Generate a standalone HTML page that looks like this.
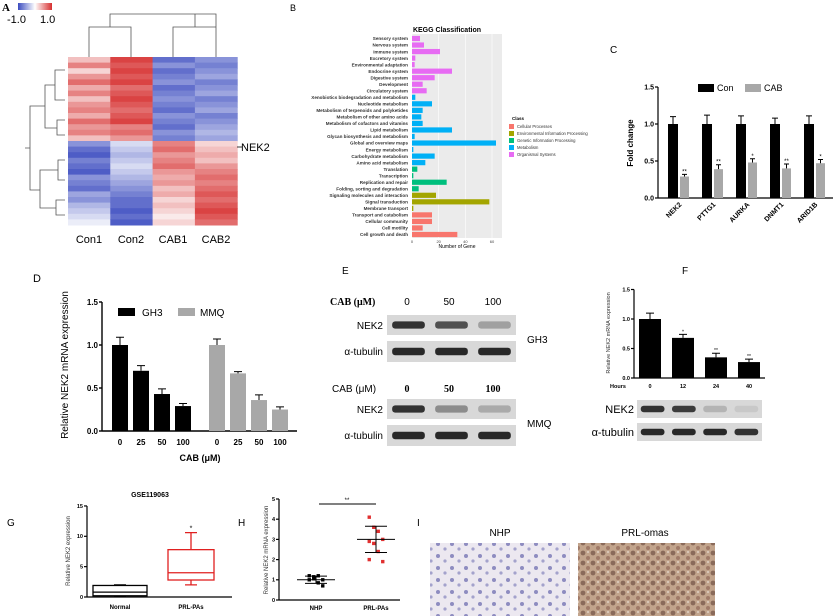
<!DOCTYPE html>
<html><head><meta charset="utf-8"><style>
body{margin:0;background:#fff;width:833px;height:616px;overflow:hidden}
svg{display:block;font-family:"Liberation Sans",sans-serif}
</style></head><body>
<svg id="fig" width="833" height="616" viewBox="0 0 833 616">
<defs>
<linearGradient id="cbar" x1="0" x2="1"><stop offset="0" stop-color="#3b4cc0"/><stop offset="0.5" stop-color="#fff"/><stop offset="1" stop-color="#d62f2f"/></linearGradient>
<pattern id="nhpTex" width="14" height="12" patternUnits="userSpaceOnUse"><rect width="14" height="12" fill="#ece8f0"/><circle cx="4" cy="4" r="2" fill="#8e8cc0"/><circle cx="11" cy="9" r="1.6" fill="#a4a2cc"/></pattern>
<pattern id="prlTex" width="10" height="10" patternUnits="userSpaceOnUse"><rect width="10" height="10" fill="#c2a48c"/><circle cx="3" cy="3" r="2.4" fill="#8a6a5a"/><circle cx="8" cy="8" r="2" fill="#a07a68"/><circle cx="8" cy="2" r="1" fill="#e0d0c4"/></pattern>
</defs>
<g id="pA">
<text x="2" y="11" font-size="11" font-family="Liberation Serif" font-weight="bold">A</text>
<rect x="18" y="3" width="34" height="7" fill="url(#cbar)"/>
<text x="7" y="23" font-size="11">-1.0</text>
<text x="40" y="23" font-size="11">1.0</text>
<g id="hm"></g>
<g stroke="#555" stroke-width="0.8" fill="none">
<path d="M89 57V27H131V57M110 27V14H216V27M173 57V27H216V57M195 27V14"/>
</g>
<g stroke="#555" stroke-width="0.8" fill="none">
<path d="M65 70H55V100H65M65 120H57V135H65M55 85H45V128H57M45 106H30V190H40M65 160H58V180H65M65 200H56V215H65M58 170H40V208H56M30 148H25"/>
</g>
<line x1="237" y1="147" x2="242" y2="147" stroke="#000" stroke-width="0.8"/>
<text x="241" y="151" font-size="11">NEK2</text>
<g font-size="11" text-anchor="middle">
<text x="89" y="243">Con1</text><text x="131" y="243">Con2</text><text x="173" y="243">CAB1</text><text x="216" y="243">CAB2</text>
</g>
</g>
<g id="pB">
<text x="290" y="11" font-size="9">B</text>
<text x="447" y="32" font-size="7" font-weight="bold" text-anchor="middle">KEGG Classification</text>
<rect x="412" y="34" width="90" height="204" fill="#ebebeb"/>
<g id="kegg"></g>
<text x="457" y="248" font-size="5" text-anchor="middle">Number of Gene</text>
<text x="512" y="120" font-size="4.5" font-weight="bold">Class</text>
<g id="keggLeg"></g>
</g>
<g id="pC">
<text x="610" y="53" font-size="10">C</text>
<g id="cChart"></g>
</g>
<g id="pD">
<text x="33" y="282" font-size="11">D</text>
<g id="dChart"></g>
</g>
<g id="pE">
<text x="342" y="274" font-size="10">E</text>
<text x="330" y="305" font-size="10" font-weight="bold" font-family="Liberation Serif">CAB (μM)</text>
<g font-size="10" text-anchor="middle"><text x="407" y="305">0</text><text x="449" y="305">50</text><text x="493" y="305">100</text></g>
<text x="383" y="329" font-size="10" text-anchor="end">NEK2</text>
<text x="383" y="355" font-size="10" text-anchor="end">α-tubulin</text>
<text x="527" y="343" font-size="10">GH3</text>
<text x="332" y="392" font-size="10">CAB (μM)</text>
<g font-size="10" font-weight="bold" font-family="Liberation Serif" text-anchor="middle"><text x="407" y="392">0</text><text x="449" y="392">50</text><text x="493" y="392">100</text></g>
<text x="383" y="413" font-size="10" text-anchor="end">NEK2</text>
<text x="383" y="439" font-size="10" text-anchor="end">α-tubulin</text>
<text x="527" y="427" font-size="10">MMQ</text>
<g id="eBlots"></g>
</g>
<g id="pF">
<text x="682" y="274" font-size="10">F</text>
<g id="fChart"></g>
<text x="634" y="413" font-size="11" text-anchor="end">NEK2</text>
<text x="634" y="436" font-size="11" text-anchor="end">α-tubulin</text>
<g id="fBlots"></g>
</g>
<g id="pG">
<text x="7" y="526" font-size="10">G</text>
<text x="150" y="497" font-size="7" font-weight="bold" text-anchor="middle">GSE119063</text>
<g id="gChart"></g>
</g>
<g id="pH">
<text x="238" y="526" font-size="10">H</text>
<g id="hChart"></g>
</g>
<g id="pI">
<text x="417" y="526" font-size="10">I</text>
<text x="500" y="536" font-size="10" text-anchor="middle">NHP</text>
<text x="645" y="536" font-size="10" text-anchor="middle">PRL-omas</text>
<rect x="430" y="543" width="140" height="73" fill="url(#nhpTex)"/>
<rect x="578" y="543" width="137" height="73" fill="url(#prlTex)"/>
</g>
</svg>
<script>
// ---- data ----
const hmSamples=["Con1","Con2","CAB1","CAB2"];
const hmCon1=[0.3,0.6,0.2,0.5,0.7,0.4,0.6,0.3,0.5,0.6,0.4,0.7,0.5,0.6,0.3,-0.6,-0.8,-0.9,-0.7,-0.8,-0.9,-0.6,-0.7,-0.8,-0.5,-0.6,-0.4,-0.3,-0.2,-0.1];
const hmCon2=[0.9,0.8,0.9,0.8,0.9,0.7,0.8,0.9,0.8,0.7,0.8,0.9,0.6,0.7,0.5,-0.2,-0.3,-0.4,-0.3,-0.2,-0.3,-0.4,-0.5,-0.6,-0.7,-0.8,-0.8,-0.9,-0.8,-0.9];
const hmCab1=[-0.8,-0.6,-0.8,-0.7,-0.6,-0.8,-0.7,-0.6,-0.7,-0.8,-0.6,-0.7,-0.8,-0.6,-0.7,0.6,0.7,0.5,0.6,0.7,0.5,0.4,0.5,0.3,0.4,0.2,0.3,0.2,0.1,0.2];
const hmCab2=[-0.6,-0.7,-0.6,-0.5,-0.7,-0.6,-0.5,-0.7,-0.6,-0.5,-0.7,-0.6,-0.5,-0.4,-0.5,0.2,0.3,0.4,0.3,0.5,0.6,0.7,0.6,0.7,0.8,0.7,0.8,0.9,0.8,0.7];

const keggCats=["Sensory system","Nervous system","Immune system","Excretory system","Environmental adaptation","Endocrine system","Digestive system","Development","Circulatory system","Xenobiotics biodegradation and metabolism","Nucleotide metabolism","Metabolism of terpenoids and polyketides","Metabolism of other amino acids","Metabolism of cofactors and vitamins","Lipid metabolism","Glycan biosynthesis and metabolism","Global and overview maps","Energy metabolism","Carbohydrate metabolism","Amino acid metabolism","Translation","Transcription","Replication and repair","Folding, sorting and degradation","Signaling molecules and interaction","Signal transduction","Membrane transport","Transport and catabolism","Cellular community","Cell motility","Cell growth and death"];
const keggVals=[6,9,21,2.5,2,30,17,8,11,2.5,15,8,7,8,30,2,63,1,17,10,4,1,26,5,18,58,1,15,15,8,34];
const keggClass=[4,4,4,4,4,4,4,4,4,3,3,3,3,3,3,3,3,3,3,3,2,2,2,2,1,1,1,0,0,0,0];
const keggClassNames=["Cellular Processes","Environmental Information Processing","Genetic Information Processing","Metabolism","Organismal Systems"];
const keggTicks=[0,20,40,60];

const cGenes=["NEK2","PTTG1","AURKA","DNMT1","ARID1B"];
const cCon=[1,1,1,1,1];
const cConErr=[0.1,0.12,0.11,0.08,0.11];
const cCab=[0.29,0.39,0.48,0.40,0.47];
const cCabErr=[0.03,0.06,0.05,0.06,0.05];
const cStars=["**","**","*","**","*"];
const cTicks=[0,0.5,1.0,1.5];

const dDoses=["0","25","50","100"];
const dGH3=[1.0,0.70,0.43,0.29];
const dGH3Err=[0.09,0.06,0.06,0.03];
const dMMQ=[1.0,0.67,0.36,0.25];
const dMMQErr=[0.07,0.02,0.06,0.03];
const dTicks=[0,0.5,1.0,1.5];

const fHours=["0","12","24","40"];
const fVals=[1.0,0.68,0.35,0.27];
const fErr=[0.1,0.06,0.07,0.05];
const fStars=["","*","**","**"];
const fTicks=[0,0.5,1.0,1.5];

const gGroups=["Normal","PRL-PAs"];
const gMin=[0.1,2.0];
const gQ1=[0.2,2.8];
const gMed=[0.8,4.0];
const gQ3=[1.9,7.8];
const gMax=[2.0,10.6];
const gTicks=[0,5,10,15];

const hGroups=["NHP","PRL-PAs"];
const hNHP=[1.2,1.15,1.2,1.0,1.0,1.05,0.85,0.7];
const hPRL=[4.1,3.6,3.4,3.0,2.9,2.8,2.4,1.9,2.0];
const hMean=[1.0,3.0];
const hSD=[0.18,0.65];
const hTicks=[0,1,2,3,4,5];

const eGH3Nek=[0.9,0.75,0.35];
const eMMQNek=[0.9,0.45,0.3];
const fNek=[0.9,0.85,0.25,0.15];
// ---- helpers ----
const NS="http://www.w3.org/2000/svg";
function mk(p,t,a,txt){const e=document.createElementNS(NS,t);for(const k in a)e.setAttribute(k,a[k]);if(txt!==undefined)e.textContent=txt;p.appendChild(e);return e;}
function col(v){const t=Math.abs(v);let r,g,b;if(v>=0){r=255-(255-214)*t;g=255-(255-47)*t;b=255-(255-47)*t;}else{r=255-(255-59)*t;g=255-(255-76)*t;b=255-(255-192)*t;}return `rgb(${r|0},${g|0},${b|0})`;}
// ---- heatmap ----
(function(){const g=document.getElementById('hm');const cols=[hmCon1,hmCon2,hmCab1,hmCab2];const x0=68,cw=42.3,y0=57,rh=168/hmCon1.length;
cols.forEach((c,ci)=>c.forEach((v,ri)=>{const r=mk(g,'rect',{x:x0+ci*cw,y:y0+ri*rh,width:cw+0.5,height:rh+0.5,fill:col(v)});

}));})();
// ---- KEGG ----
(function(){const g=document.getElementById('kegg');const clr=["#F8766D","#A3A500","#00BF7D","#00B0F6","#E76BF3"];
const x=v=>412+v*80/60;const y0=38.5,step=(234.5-38.5)/(keggCats.length-1);
keggTicks.forEach(t=>{mk(g,'line',{x1:x(t),x2:x(t),y1:34,y2:238,stroke:'#fff','stroke-width':0.6});const l=mk(g,'text',{x:x(t),y:243,'font-size':4,'text-anchor':'middle',fill:'#444'},t);

});
keggCats.forEach((c,i)=>{const yy=y0+i*step;const b=mk(g,'rect',{x:412,y:yy-2.6,width:x(keggVals[i])-412,height:5.2,fill:clr[keggClass[i]]});


const t=mk(g,'text',{x:408,y:yy+1.7,'font-size':4.6,'font-weight':'bold','text-anchor':'end',fill:'#333'},c);

});
const lg=document.getElementById('keggLeg');keggClassNames.forEach((n,i)=>{const yy=124+i*7;mk(lg,'rect',{x:509,y:yy,width:5,height:5,fill:clr[i]});const t=mk(lg,'text',{x:517,y:yy+4,'font-size':4.2,fill:'#333'},n);

});})();
// generic axis
function yAxis(g,ax,yf,ticks,fmt,fs,lw){mk(g,'line',{x1:ax,x2:ax,y1:yf(ticks[ticks.length-1]),y2:yf(ticks[0]),stroke:'#000','stroke-width':lw});
ticks.forEach(t=>{mk(g,'line',{x1:ax-3,x2:ax,y1:yf(t),y2:yf(t),stroke:'#000','stroke-width':lw});const l=mk(g,'text',{x:ax-4,y:yf(t)+fs*0.35,'font-size':fs,'font-weight':'bold','text-anchor':'end'},fmt(t));

});}
function errBar(g,cx,top,e,w){mk(g,'path',{d:`M${cx} ${top}V${e}M${cx-w} ${e}H${cx+w}`,stroke:'#000','stroke-width':1,fill:'none'});}
// ---- C ----
(function(){const g=document.getElementById('cChart');const y=v=>198-v*74;
yAxis(g,658,y,cTicks,t=>t.toFixed(1),7,1.2);mk(g,'line',{x1:658,x2:833,y1:198,y2:198,stroke:'#000','stroke-width':1.2});
const lbl=mk(g,'text',{transform:'translate(633,143) rotate(-90)','font-size':8,'font-weight':'bold','text-anchor':'middle'},'Fold change');


cGenes.forEach((n,i)=>{const x=668+i*34;const b1=mk(g,'rect',{x:x,y:y(cCon[i]),width:10,height:198-y(cCon[i]),fill:'#000'});


errBar(g,x+5,y(cCon[i]),y(cCon[i]+cConErr[i]),3);
const b2=mk(g,'rect',{x:x+12,y:y(cCab[i]),width:9,height:198-y(cCab[i]),fill:'#a8a8a8'});


errBar(g,x+16.5,y(cCab[i]),y(cCab[i]+cCabErr[i]),2.5);
mk(g,'text',{x:x+16.5,y:y(cCab[i]+cCabErr[i])-1,'font-size':6,'text-anchor':'middle'},cStars[i]);
const t=mk(g,'text',{transform:`translate(${x+14},${205}) rotate(-45)`,'font-size':7,'font-weight':'bold','text-anchor':'end'},n);

});
mk(g,'rect',{x:698,y:84,width:16,height:8,fill:'#000'});mk(g,'text',{x:717,y:91,'font-size':9},'Con');
mk(g,'rect',{x:745,y:84,width:16,height:8,fill:'#a8a8a8'});mk(g,'text',{x:764,y:91,'font-size':9},'CAB');})();
// ---- D ----
(function(){const g=document.getElementById('dChart');const y=v=>431-v*86;
yAxis(g,102,y,dTicks,t=>t.toFixed(1),8,1.4);mk(g,'line',{x1:102,x2:297,y1:431,y2:431,stroke:'#000','stroke-width':1.4});
const lbl=mk(g,'text',{transform:'translate(68,365) rotate(-90)','font-size':10,'text-anchor':'middle'},'Relative NEK2 mRNA expression');


[[dGH3,dGH3Err,112,'#000','bar-gh3'],[dMMQ,dMMQErr,209,'#a8a8a8','bar-mmq']].forEach(([vals,errs,x0,c,nm])=>{vals.forEach((v,i)=>{const x=x0+i*21;const b=mk(g,'rect',{x:x,y:y(v),width:16,height:431-y(v),fill:c});


errBar(g,x+8,y(v),y(v+errs[i]),4);
mk(g,'text',{x:x+8,y:445,'font-size':8,'font-weight':'bold','text-anchor':'middle'},dDoses[i]);});});
mk(g,'text',{x:200,y:461,'font-size':9,'font-weight':'bold','text-anchor':'middle'},'CAB (μM)');
mk(g,'rect',{x:118,y:308,width:17,height:8,fill:'#000'});mk(g,'text',{x:142,y:316,'font-size':10},'GH3');
mk(g,'rect',{x:178,y:308,width:17,height:8,fill:'#a8a8a8'});mk(g,'text',{x:200,y:316,'font-size':10},'MMQ');})();
// blots
function blot(g,x,y,w,h,ints,name){const r=mk(g,'rect',{x:x,y:y,width:w,height:h,fill:'#d8d8d8'});


const lw=w/ints.length;ints.forEach((v,i)=>{const s=Math.round(230-200*v);mk(g,'rect',{x:x+i*lw+lw*0.12,y:y+h*0.32,width:lw*0.76,height:h*0.36,rx:3,fill:`rgb(${s},${s},${s})`});});}
(function(){const g=document.getElementById('eBlots');blot(g,387,315,129,20,eGH3Nek,'blot-nek2-gh3');blot(g,387,341,129,21,[0.95,0.95,0.95],'blot-tubulin-gh3');
blot(g,387,399,129,20,eMMQNek,'blot-nek2-mmq');blot(g,387,425,129,21,[0.95,0.95,0.95],'blot-tubulin-mmq');
const f=document.getElementById('fBlots');blot(f,637,400,125,18,fNek,'blot-nek2-f');blot(f,637,423,125,18,[0.95,0.95,0.95,0.9],'blot-tubulin-f');})();
// ---- F ----
(function(){const g=document.getElementById('fChart');const y=v=>378-v*59;
yAxis(g,634,y,fTicks,t=>t.toFixed(1),5.5,1.2);mk(g,'line',{x1:634,x2:765,y1:378,y2:378,stroke:'#000','stroke-width':1.2});
const lbl=mk(g,'text',{transform:'translate(610,333) rotate(-90)','font-size':5.5,'text-anchor':'middle',fill:'#333'},'Relative NEK2 mRNA expression');


mk(g,'text',{x:618,y:388,'font-size':5.5,'font-weight':'bold','text-anchor':'middle'},'Hours');
fVals.forEach((v,i)=>{const x=639+i*33;const b=mk(g,'rect',{x:x,y:y(v),width:22,height:378-y(v),fill:'#000'});


errBar(g,x+11,y(v),y(v+fErr[i]),4);
if(fStars[i])mk(g,'text',{x:x+11,y:y(v+fErr[i])-1,'font-size':5,'text-anchor':'middle'},fStars[i]);
mk(g,'text',{x:x+11,y:388,'font-size':5.5,'font-weight':'bold','text-anchor':'middle'},fHours[i]);});})();
// ---- G ----
(function(){const g=document.getElementById('gChart');const y=v=>597-v*6.07;
yAxis(g,87,y,gTicks,t=>t,5.5,1.2);mk(g,'line',{x1:87,x2:232,y1:597,y2:597,stroke:'#000','stroke-width':1.2});
const lbl=mk(g,'text',{transform:'translate(70,551) rotate(-90)','font-size':6,'text-anchor':'middle',fill:'#333'},'Relative NEK2 expression');


const xs=[[93,147,'#000'],[168,214,'#e02020']];
gGroups.forEach((n,i)=>{const [a,b,c]=xs[i];const m=(a+b)/2;
const bx=mk(g,'rect',{x:a,y:y(gQ3[i]),width:b-a,height:y(gQ1[i])-y(gQ3[i]),fill:'none',stroke:c,'stroke-width':1.3});


mk(g,'line',{x1:a,x2:b,y1:y(gMed[i]),y2:y(gMed[i]),stroke:c,'stroke-width':1.3});
mk(g,'path',{d:`M${m} ${y(gQ3[i])}V${y(gMax[i])}M${m-6} ${y(gMax[i])}H${m+6}M${m} ${y(gQ1[i])}V${y(gMin[i])}M${m-6} ${y(gMin[i])}H${m+6}`,stroke:c,'stroke-width':1.3,fill:'none'});
mk(g,'text',{x:m,y:609,'font-size':6,'font-weight':'bold','text-anchor':'middle'},n);});
mk(g,'text',{x:191,y:y(gMax[1])-2,'font-size':7,'text-anchor':'middle'},'*');})();
// ---- H ----
(function(){const g=document.getElementById('hChart');const y=v=>600-v*20.2;
yAxis(g,279,y,hTicks,t=>t,5.5,1.2);mk(g,'line',{x1:279,x2:400,y1:600,y2:600,stroke:'#000','stroke-width':1.2});
const lbl=mk(g,'text',{transform:'translate(268,550) rotate(-90)','font-size':6,'text-anchor':'middle',fill:'#333'},'Relative NEK2 mRNA expression');


const cx=[316,376];
[[hNHP,'#000'],[hPRL,'#e03030']].forEach(([vals,c],gi)=>{vals.forEach((v,i)=>{const off=((i%4)-1.5)*4.5;const p=mk(g,'rect',{x:cx[gi]+off-1.7,y:y(v)-1.7,width:3.4,height:3.4,fill:c});

});
const m=hMean[gi],s=hSD[gi];mk(g,'path',{d:`M${cx[gi]-19} ${y(m)}H${cx[gi]+19}M${cx[gi]-11} ${y(m+s)}H${cx[gi]+11}M${cx[gi]-11} ${y(m-s)}H${cx[gi]+11}M${cx[gi]} ${y(m+s)}V${y(m-s)}`,stroke:'#000','stroke-width':1,fill:'none'});
mk(g,'text',{x:cx[gi],y:610,'font-size':6,'font-weight':'bold','text-anchor':'middle'},hGroups[gi]);});
mk(g,'line',{x1:319,x2:376,y1:504,y2:504,stroke:'#000','stroke-width':1});
mk(g,'text',{x:347,y:502,'font-size':6,'text-anchor':'middle'},'**');})();
</script>
</body></html>
